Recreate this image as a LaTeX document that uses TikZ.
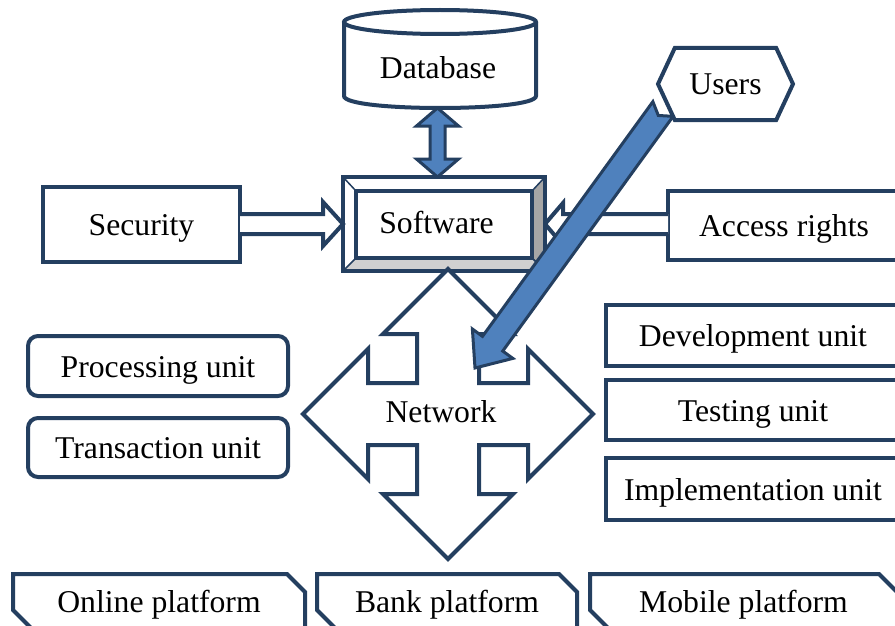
\documentclass[tikz,border=0pt]{standalone}
\usepackage{fontspec}
\setmainfont{Liberation Serif}
\usepackage{xcolor}
\usepackage{tikz}
\usetikzlibrary{calc}
\usetikzlibrary{shapes.misc}
\usetikzlibrary{shapes.symbols}

\definecolor{r36g63b96}{rgb}{0.141176,0.247059,0.376471}
\definecolor{r79g129b189}{rgb}{0.309804,0.505882,0.741176}
\definecolor{r166g166b166}{rgb}{0.650980,0.650980,0.650980}
\definecolor{r208g208b208}{rgb}{0.815686,0.815686,0.815686}

\tikzset{
  box/.style={draw=r36g63b96, line width=4pt, fill=white, outer sep=0pt, inner sep=0pt, text height=22pt, text depth=0pt},
  rbox/.style={box, rounded corners=10pt},
  plat/.style={box, chamfered rectangle, chamfered rectangle corners={north east,south west}, chamfered rectangle xsep=9pt, chamfered rectangle ysep=9pt},
  hollow/.style={draw=r36g63b96, line width=4pt, fill=white, line join=miter},
  blockarrow/.style={draw=r36g63b96, line width=3pt, fill=r79g129b189, line join=miter},
  lbl/.style={inner sep=0pt, anchor=base}
}

\begin{document}
\begin{tikzpicture}[x=1pt,y=-1pt,font=\fontsize{31.7}{38}\selectfont]
\path[use as bounding box, clip] (0,0) rectangle (895,626);

% Drawing cylinder Database
\draw[line width=4pt, draw=r36g63b96, fill=white] (344,22) -- (344,96) .. controls (344,112) and (536,112) .. (536,96) -- (536,22);
\draw[line width=4pt, draw=r36g63b96, fill=white] (440,22) ellipse (96 and 12);
\node[lbl] (db) at (438,78) {Database};
\coordinate (dbBot) at (437.5,108);

% Drawing boxes Software, Security, Access rights
\node[box, minimum width=202, minimum height=94] (soft) at (444,224) {};
\node[box, minimum width=197, minimum height=75] (sec) at (141.5,224) {Security};
\node[box, minimum width=232, minimum height=69] (acc) at (784,225.5) {Access rights};
\coordinate (softTop) at (dbBot |- soft.north);

% Drawing arrow Security -> Software
\draw[hollow] ($(sec.east)+(0,-10)$) -- ($(soft.west)+(-20,-10)$) -- ($(soft.west)+(-20,-22)$) -- (soft.west) -- ($(soft.west)+(-20,22)$) -- ($(soft.west)+(-20,10)$) -- ($(sec.east)+(0,10)$);

% Drawing arrow Access rights -> Software
\draw[hollow] ($(acc.west |- soft.east)+(0,-10)$) -- ($(soft.east)+(18,-10)$) -- ($(soft.east)+(18,-21)$) -- (soft.east) -- ($(soft.east)+(18,21)$) -- ($(soft.east)+(18,10)$) -- ($(acc.west |- soft.east)+(0,10)$);

% Drawing double arrow Database <-> Software
\draw[blockarrow] (dbBot) -- ($(dbBot)+(21,18)$) -- ($(dbBot)+(7.5,18)$) -- ($(softTop)+(7.5,-18)$) -- ($(softTop)+(21,-18)$) -- (softTop) -- ($(softTop)+(-21,-18)$) -- ($(softTop)+(-7.5,-18)$) -- ($(dbBot)+(-7.5,18)$) -- ($(dbBot)+(-21,18)$) -- cycle;

% Marking bevel of Software
\coordinate (iNW) at ($(soft.north west)+(13,14)$);
\coordinate (iNE) at ($(soft.north east)+(-13,14)$);
\coordinate (iSE) at ($(soft.south east)+(-13,-13)$);
\coordinate (iSW) at ($(soft.south west)+(13,-13)$);
\filldraw[fill=r166g166b166, draw=r36g63b96, line width=1.5pt] (soft.north east) -- (iNE) -- (iSE) -- (soft.south east) -- cycle;
\filldraw[fill=r208g208b208, draw=r36g63b96, line width=1.5pt] (soft.south west) -- (iSW) -- (iSE) -- (soft.south east) -- cycle;
\draw[r36g63b96, line width=1.5pt] (soft.north west) -- (iNW);
\draw[r36g63b96, line width=4pt] (iNW) rectangle (iSE);
\draw[r36g63b96, line width=4pt] (soft.north west) rectangle (soft.south east);
\node[lbl] (softT) at (436.5,233) {Software};

% Drawing quad arrow Network
\coordinate (netC) at (448,414);
\draw[hollow] ($(netC)+(0,-145)$) -- ++(65,65) -- ++(-34,0) -- ++(0,49) -- ++(49,0) -- ++(0,-34) -- ++(65,65) -- ++(-65,65) -- ++(0,-34) -- ++(-49,0) -- ++(0,49) -- ++(34,0) -- ++(-65,65) -- ++(-65,-65) -- ++(34,0) -- ++(0,-49) -- ++(-49,0) -- ++(0,34) -- ++(-65,-65) -- ++(65,-65) -- ++(0,34) -- ++(49,0) -- ++(0,-49) -- ++(-34,0) -- cycle;
\node[lbl] (net) at (441,422) {Network};

% Drawing units left and right
\node[rbox, minimum width=260, minimum height=60] (proc) at (158,366) {Processing unit};
\node[rbox, minimum width=260, minimum height=59] (trans) at (158,447.5) {Transaction unit};
\node[box, minimum width=294, minimum height=61] (dev) at (753,335.5) {Development unit};
\node[box, minimum width=294, minimum height=60] (test) at (753,410) {Testing unit};
\node[box, minimum width=294, minimum height=62] (impl) at (753,489) {Implementation unit};

% Drawing platforms
\node[plat, minimum width=292, minimum height=54] (online) at (159,601) {Online platform};
\node[plat, minimum width=260, minimum height=54] (bank) at (447,601) {Bank platform};
\node[plat, minimum width=307, minimum height=54] (mobile) at (743.5,601) {Mobile platform};

% Drawing arrow Users -> Network
\coordinate (uTail) at (663,109);
\coordinate (uTip) at ($(netC)+(27,-46)$);
\coordinate (uHead) at ($(uTip)!30pt!(uTail)$);
\draw[blockarrow] ($(uTail)!12.5pt!90:(uTip)$) -- ($(uHead)!12.5pt!90:(uTip)$) -- ($(uHead)!25pt!90:(uTip)$) -- (uTip) -- ($(uHead)!25pt!-90:(uTip)$) -- ($(uHead)!12.5pt!-90:(uTip)$) -- ($(uTail)!12.5pt!-90:(uTip)$) -- ($(uTail)!8pt!(uTip)$) -- cycle;

% Drawing hexagon Users
\node[box, signal, signal to=west and east, signal pointer angle=130, minimum width=135, minimum height=72] (users) at (725.5,84) {Users};
\end{tikzpicture}
\end{document}
